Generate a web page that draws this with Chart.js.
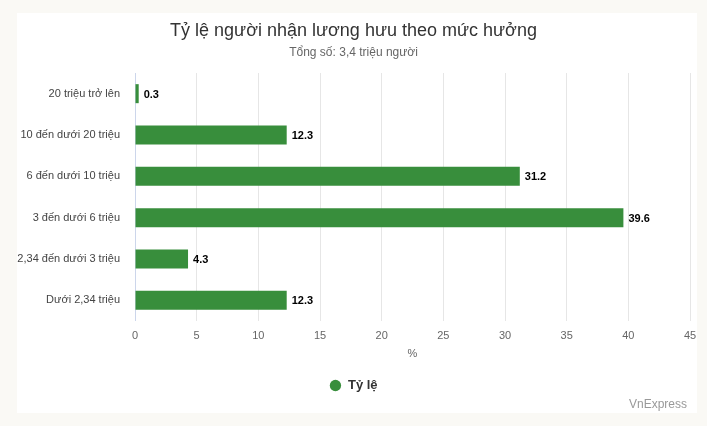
<!DOCTYPE html>
<html>
<head>
<meta charset="utf-8">
<script src="https://cdn.jsdelivr.net/npm/chart.js@4"></script>
<style>
  html, body { margin: 0; padding: 0; background: #faf9f5; }
  .chart { position: absolute; left: 17px; top: 13px; width: 680px; height: 400px; background: #fff; }
</style>
</head>
<body>
<div class="chart"><canvas id="chart"></canvas></div>
<script>
const categories = ['20 triệu trở lên', '10 đến dưới 20 triệu', '6 đến dưới 10 triệu', '3 đến dưới 6 triệu', '2,34 đến dưới 3 triệu', 'Dưới 2,34 triệu'];
const shares = [0.3, 12.3, 31.2, 39.6, 4.3, 12.3];
const xTicks = [0, 5, 10, 15, 20, 25, 30, 35, 40, 45];

const FONT = '"Liberation Sans", Arial, sans-serif';

// value labels at the end of each bar
const barLabels = {
    id: 'barLabels',
    afterDatasetsDraw(chart) {
        const ctx = chart.ctx;
        const meta = chart.getDatasetMeta(0);
        ctx.save();
        ctx.font = 'bold 11px ' + FONT;
        ctx.fillStyle = '#000';
        ctx.textBaseline = 'middle';
        ctx.textAlign = 'left';
        meta.data.forEach((bar, i) => {
            ctx.fillText(String(shares[i]), bar.x + 5, bar.y + 1);
        });
        ctx.restore();
    }
};

const credits = {
    id: 'credits',
    afterDraw(chart) {
        const ctx = chart.ctx;
        ctx.save();
        ctx.font = '12px ' + FONT;
        ctx.fillStyle = '#999';
        ctx.textAlign = 'right';
        ctx.textBaseline = 'alphabetic';
        ctx.fillText('VnExpress', chart.width - 10, chart.height - 5);
        ctx.restore();
    }
};

new Chart(document.getElementById('chart').getContext('2d'), {
    type: 'bar',
    data: {
        labels: categories,
        datasets: [{
            label: 'Tỷ lệ',
            data: shares,
            backgroundColor: '#388e3c',
            borderWidth: 0,
            barPercentage: 0.46,
            categoryPercentage: 1
        }]
    },
    options: {
        indexAxis: 'y',
        responsive: true,
        maintainAspectRatio: false,
        animation: false,
        layout: { padding: { left: 0, right: 7, top: 0, bottom: 11 } },
        scales: {
            x: {
                min: 0,
                max: 45,
                afterBuildTicks: (axis) => { axis.ticks = xTicks.map(v => ({ value: v })); },
                afterFit: (axis) => {
                    axis.height = 40;
                    axis.paddingRight = 0;
                    axis.paddingLeft = 0;
                },
                ticks: { color: '#666', font: { family: FONT, size: 11 }, padding: 8 },
                grid: {
                    color: (c) => (c.tick && c.tick.value === 0 ? '#ccd6eb' : '#e6e6e6'),
                    drawTicks: false
                },
                border: { display: false },
                title: { display: true, text: '%', color: '#666', font: { family: FONT, size: 11 }, padding: { top: 0, bottom: 0 } }
            },
            y: {
                afterFit: (axis) => { axis.width = 118; },
                ticks: { color: '#444', font: { family: FONT, size: 11 }, padding: 7 },
                grid: { display: false },
                border: { display: false }
            }
        },
        plugins: {
            title: {
                display: true,
                text: 'Tỷ lệ người nhận lương hưu theo mức hưởng',
                color: '#333',
                font: { family: FONT, size: 18, weight: 'normal' },
                padding: { top: 7, bottom: 4 }
            },
            subtitle: {
                display: true,
                text: 'Tổng số: 3,4 triệu người',
                color: '#666',
                font: { family: FONT, size: 12 },
                padding: { top: 0, bottom: 13 }
            },
            legend: {
                position: 'bottom',
                labels: {
                    usePointStyle: true,
                    pointStyle: 'circle',
                    boxWidth: 12,
                    boxHeight: 8,
                    color: '#333',
                    padding: 18,
                    font: { family: FONT, size: 13, weight: 'bold' }
                }
            },
            tooltip: { enabled: false }
        }
    },
    plugins: [barLabels, credits]
});
</script>
</body>
</html>
